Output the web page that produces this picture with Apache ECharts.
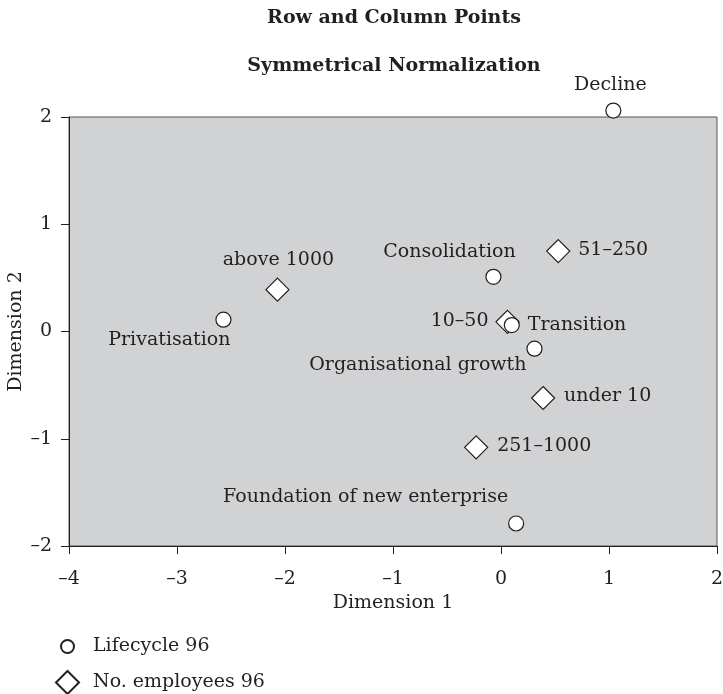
<!DOCTYPE html>
<html>
<head>
<meta charset="utf-8">
<script src="https://cdn.jsdelivr.net/npm/echarts@6/dist/echarts.min.js"></script>
<style>
html,body{margin:0;padding:0;background:#fff;}
#chart{width:723px;height:694px;}
</style>
</head>
<body>
<div id="chart"></div>
<script>
// row points (Lifecycle 96)
var lifeNames = ['Decline', 'Consolidation', 'Transition', 'Organisational growth', 'Privatisation', 'Foundation of new enterprise'];
var lifeX = [1.04, -0.07, 0.10, 0.31, -2.57, 0.14];
var lifeY = [2.06, 0.51, 0.06, -0.16, 0.11, -1.79];

// column points (No. employees 96)
var empNames = ['51\u2013250', 'above 1000', '10\u201350', 'under 10', '251\u20131000'];
var empX = [0.53, -2.07, 0.06, 0.39, -0.23];
var empY = [0.75, 0.39, 0.09, -0.62, -1.08];

var serif = 'DejaVu Serif';
var ink = '#231f20';

// label anchor relative to the marker centre
var labelPos = {
    'Decline': {align: 'center', offset: [-3, -26]},
    'Consolidation': {align: 'center', offset: [-44, -25]},
    'Transition': {align: 'left', offset: [16, 0]},
    'Organisational growth': {align: 'right', offset: [-8, 16]},
    'Privatisation': {align: 'right', offset: [7, 20]},
    'Foundation of new enterprise': {align: 'right', offset: [-8, -26]},
    '51\u2013250': {align: 'left', offset: [20, -1]},
    'above 1000': {align: 'center', offset: [1, -30]},
    '10\u201350': {align: 'right', offset: [-19, -1]},
    'under 10': {align: 'left', offset: [21, -2]},
    '251\u20131000': {align: 'left', offset: [21, -1]}
};

function buildData(names, xs, ys) {
    var out = [];
    for (var i = 0; i < names.length; i++) {
        var lp = labelPos[names[i]];
        out.push({
            name: names[i],
            value: [xs[i], ys[i]],
            label: {
                show: true,
                formatter: '{b}',
                position: 'inside',
                align: lp.align,
                verticalAlign: 'middle',
                offset: lp.offset,
                color: ink,
                fontFamily: serif,
                fontSize: 19
            }
        });
    }
    return out;
}

function dashMinus(v) {
    return v < 0 ? '\u2013' + Math.abs(v) : String(v);
}

var myChart = echarts.init(document.getElementById('chart'));

var option = {
    backgroundColor: '#fff',
    animation: false,
    title: [{
        text: 'Row and Column Points',
        left: 389,
        top: 4,
        textAlign: 'center',
        textStyle: {fontFamily: serif, fontWeight: 'bold', fontSize: 19, color: ink}
    }, {
        text: 'Symmetrical Normalization',
        left: 389,
        top: 52,
        textAlign: 'center',
        textStyle: {fontFamily: serif, fontWeight: 'bold', fontSize: 19, color: ink}
    }],
    legend: [{
        left: 60,
        top: 637,
        padding: 0,
        itemWidth: 23,
        itemHeight: 13,
        selectedMode: false,
        textStyle: {fontFamily: serif, fontSize: 19, color: ink, padding: [0, 0, 0, 9]},
        data: [{name: 'Lifecycle 96', icon: 'circle'}]
    }, {
        left: 55,
        top: 670,
        padding: 0,
        itemWidth: 23,
        itemHeight: 23,
        selectedMode: false,
        textStyle: {fontFamily: serif, fontSize: 19, color: ink, padding: [0, 0, 0, 9]},
        data: [{name: 'No. employees 96', icon: 'diamond'}]
    }],
    grid: {
        left: 69,
        right: 6,
        top: 117,
        bottom: 148,
        outerBoundsMode: 'none',
        show: true,
        backgroundColor: '#d1d2d4',
        borderColor: '#555',
        borderWidth: 1
    },
    xAxis: {
        type: 'value',
        min: -4,
        max: 2,
        interval: 1,
        name: 'Dimension 1',
        nameLocation: 'middle',
        nameGap: 45,
        nameTextStyle: {fontFamily: serif, fontSize: 19, color: ink},
        axisLine: {onZero: false, lineStyle: {color: ink}},
        axisTick: {show: true, length: 8, lineStyle: {color: ink}},
        axisLabel: {fontFamily: serif, fontSize: 19, color: ink, margin: 24, formatter: dashMinus},
        splitLine: {show: false}
    },
    yAxis: {
        type: 'value',
        min: -2,
        max: 2,
        interval: 1,
        name: 'Dimension 2',
        nameLocation: 'middle',
        nameGap: 43,
        nameMoveOverlap: false,
        nameTextStyle: {fontFamily: serif, fontSize: 19, color: ink},
        axisLine: {onZero: false, lineStyle: {color: ink}},
        axisTick: {show: true, length: 8, lineStyle: {color: ink}},
        axisLabel: {fontFamily: serif, fontSize: 19, color: ink, margin: 17, formatter: dashMinus},
        splitLine: {show: false}
    },
    series: [{
        name: 'Lifecycle 96',
        type: 'scatter',
        symbol: 'circle',
        symbolSize: 15,
        clip: false,
        z: 3,
        itemStyle: {color: '#fff', borderColor: ink, borderWidth: 1.2, opacity: 1},
        data: buildData(lifeNames, lifeX, lifeY)
    }, {
        name: 'No. employees 96',
        type: 'scatter',
        symbol: 'diamond',
        symbolSize: 23,
        clip: false,
        z: 2,
        itemStyle: {color: '#fff', borderColor: ink, borderWidth: 1.2, opacity: 1},
        data: buildData(empNames, empX, empY)
    }]
};

myChart.setOption(option);
</script>
</body>
</html>
